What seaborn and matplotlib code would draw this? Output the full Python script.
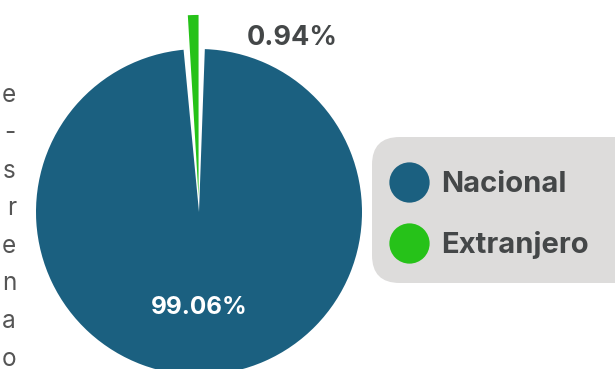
import matplotlib
matplotlib.use("Agg")
import matplotlib.pyplot as plt
import seaborn as sns
from matplotlib.lines import Line2D
from matplotlib.patches import FancyBboxPatch

# data
categories = ["Nacional", "Extranjero"]
shares = [99.06, 0.94]
colors = ["#1b6080", "#26c219"]
# cut-off paragraph text on the left edge
side_chars = ["e", "-", "s", "r", "e", "n", "a", "o"]

sns.set_theme(style="white")
plt.rcParams['font.family'] = ['Inter', 'DejaVu Sans']

W, H = 615, 369
fig = plt.figure(figsize=(W / 100, H / 100), dpi=100)
ax = fig.add_axes([0, 0, 1, 1])

cx, cy, R = 199, 212, 163  # pie centre / radius in pixels
gap_pad = 2.05  # degrees of white space left on each side of the pulled slice

wedges, texts, autotexts = ax.pie(
    shares, colors=colors, startangle=90, counterclock=False,
    explode=[0, 0.092], autopct='%.2f%%', pctdistance=0.58,
    wedgeprops=dict(linewidth=0),
    textprops=dict(fontsize=19, fontweight='bold'))
# open up the main slice so the small one sits in a wider white gap
wedges[0].set_theta1(wedges[0].theta1 + gap_pad)
wedges[0].set_theta2(wedges[0].theta2 - gap_pad)
# the small slice sticks out further than the pie
wedges[1].set_radius(1.117)
wedges[1].set_zorder(3)

autotexts[0].set_color('white')
autotexts[0].set_fontsize(17.5)
autotexts[0].set_position((0, -(307 - cy) / R))
autotexts[1].set_color('#444748')
autotexts[1].set_fontsize(19.5)
autotexts[1].set_position(((292 - cx) / R, (cy - 38) / R))
autotexts[1].set_zorder(4)

ax.set_xlim(-cx / R, (W - cx) / R)
ax.set_ylim(-(H - cy) / R, cy / R)
ax.set_aspect('equal')
ax.axis('off')

# legend panel
panel = FancyBboxPatch((372 / W, (H - 283) / H), 300 / W, 146 / H,
                       boxstyle="round,pad=0,rounding_size=0.045",
                       transform=fig.transFigure, facecolor='#dddcdb',
                       edgecolor='none', zorder=0, mutation_aspect=W / H)
fig.patches.append(panel)

handles = [Line2D([], [], marker='o', linestyle='', markersize=29,
                  markerfacecolor=c, markeredgecolor='none') for c in colors]
leg = fig.legend(handles, categories, loc='center left',
                 bbox_to_anchor=(377 / W, (H - 215) / H), frameon=False,
                 prop=dict(size=21, weight='bold'), labelspacing=1.14,
                 handletextpad=0.4, handlelength=1.4, borderaxespad=0,
                 borderpad=0.4)
for t in leg.get_texts():
    t.set_color('#444748')

for i, ch in enumerate(side_chars):
    fig.text(16 / W, (H - (96 + 37.6 * i)) / H, ch, ha='right', va='center',
             fontsize=17.5, color='#555555')

fig.savefig('out.png', dpi=100)
